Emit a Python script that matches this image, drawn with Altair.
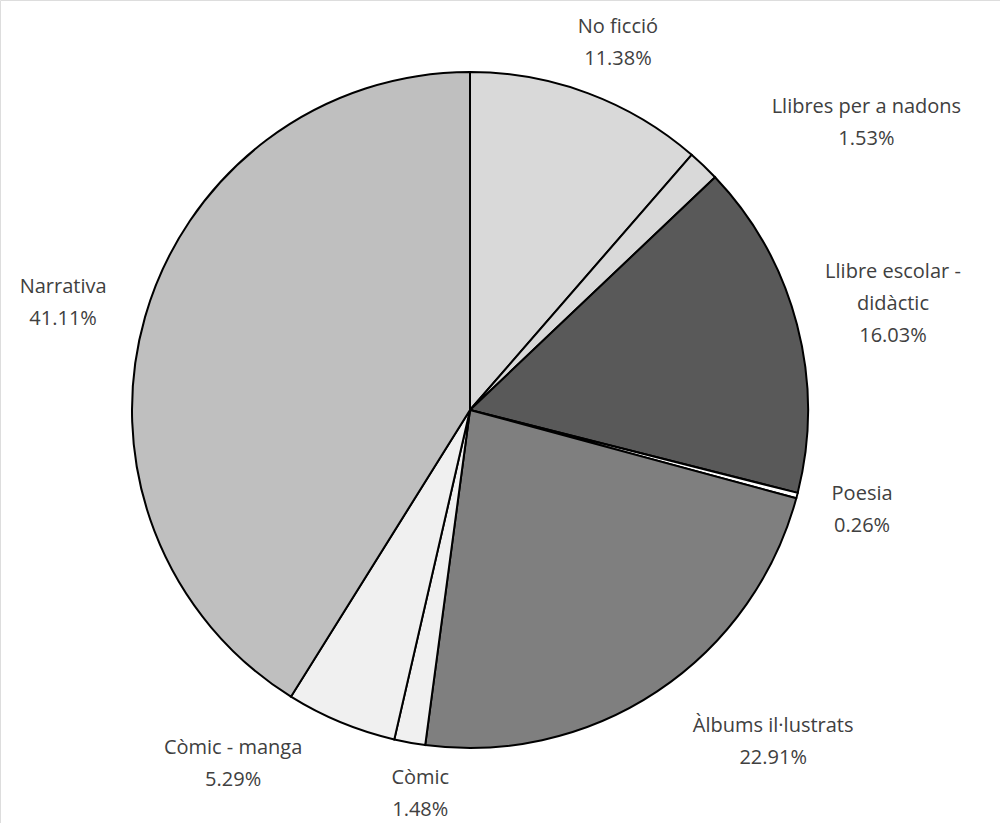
import math
import altair as alt
import pandas as pd

# Share of titles by genre (percent), clockwise from 12 o'clock
categories = [
    "No ficció",
    "Llibres per a nadons",
    "Llibre escolar - didàctic",
    "Poesia",
    "Àlbums il·lustrats",
    "Còmic",
    "Còmic - manga",
    "Narrativa",
]
shares = [11.38, 1.53, 16.03, 0.26, 22.91, 1.48, 5.29, 41.11]
fills = ["#d9d9d9", "#d9d9d9", "#595959", "#ffffff", "#7f7f7f", "#f0f0f0", "#f0f0f0", "#bfbfbf"]
label_names = [
    "No ficció",
    "Llibres per a nadons",
    "Llibre escolar -\ndidàctic",
    "Poesia",
    "Àlbums il·lustrats",
    "Còmic",
    "Còmic - manga",
    "Narrativa",
]

# Anchor of each label's first line: angle (degrees, clockwise from top) and distance (px)
label_angle = [21.1, 52.6, 71.9, 102.1, 136.2, 187.7, 215.0, 286.8]
label_radius = [411, 499, 445, 401, 438, 371, 413, 425]

df = pd.DataFrame({
    "category": categories,
    "share": shares,
    "order": list(range(len(categories))),
    "label": [f"{n}\n{s:.2f}%" for n, s in zip(label_names, shares)],
    "lab_theta": label_angle,
    "lab_r": label_radius,
})

cx, cy, radius = 470, 410, 338

pie = alt.Chart(df).mark_arc(
    radius=radius, stroke="black", strokeWidth=2, strokeJoin="miter"
).encode(
    theta=alt.Theta("share:Q", stack=True),
    order=alt.Order("order:Q", sort="ascending"),
    color=alt.Color("category:N", scale=alt.Scale(domain=categories, range=fills), legend=None),
    x=alt.value(cx),
    y=alt.value(cy),
)

labels = alt.Chart(df).mark_text(
    font="Open Sans", fontSize=20, color="#404040", lineBreak="\n",
    lineHeight=32, align="center", baseline="middle",
).encode(
    theta=alt.Theta("lab_theta:Q", stack=False,
                    scale=alt.Scale(domain=[0, 360], range=[0, 2 * math.pi])),
    radius=alt.Radius("lab_r:Q", scale=None),
    text="label:N",
    x=alt.value(cx),
    y=alt.value(cy),
)

chart = (pie + labels).resolve_scale(theta="independent").properties(
    width=1000, height=823, padding=0, autosize=alt.AutoSizeParams(type="none")
).configure_view(stroke=None).configure(background="white")

chart.save("out.html", embed_options={"renderer": "svg", "actions": False})
